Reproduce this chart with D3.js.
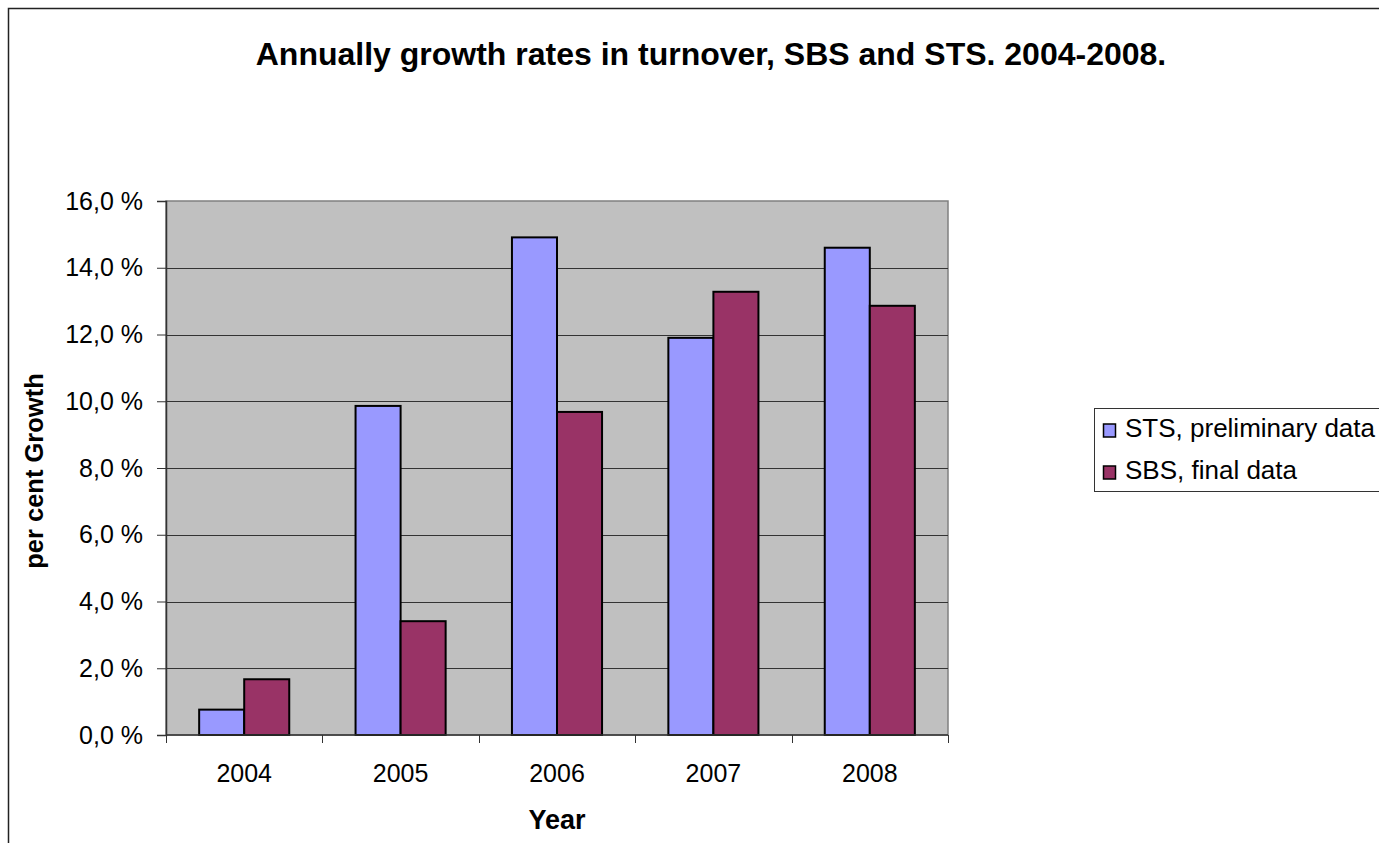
<!DOCTYPE html>
<html>
<head>
<meta charset="utf-8">
<script src="https://cdn.jsdelivr.net/npm/d3@7/dist/d3.min.js"></script>
<style>
  html, body { margin: 0; padding: 0; background: #fff; overflow: hidden; }
  svg { display: block; font-family: "Liberation Sans", Arial, sans-serif; }
</style>
</head>
<body>
<svg id="chart" width="1379" height="843"></svg>
<script>
// Annual growth rates (%) by year
const years = ["2004", "2005", "2006", "2007", "2008"];
const stsValues = [0.76, 9.86, 14.91, 11.9, 14.6];
const sbsValues = [1.67, 3.41, 9.68, 13.28, 12.86];
const seriesNames = ["STS, preliminary data", "SBS, final data"];
const seriesColors = ["#9999FF", "#993366"];
const yTicks = [0, 2, 4, 6, 8, 10, 12, 14, 16];

const svg = d3.select("#chart");

// Outer chart frame (runs off the right and bottom edges)
svg.append("rect")
  .attr("x", 8.5).attr("y", 8.5)
  .attr("width", 1400).attr("height", 900)
  .attr("fill", "#fff").attr("stroke", "#222").attr("stroke-width", 1.5);

const plot = { left: 166, top: 201, right: 948, bottom: 735 };

const x = d3.scaleBand().domain(years).range([plot.left, plot.right]).padding(0);
const y = d3.scaleLinear().domain([0, 16]).range([plot.bottom, plot.top]);

// Bars fill 0.576 of each category, split evenly between the two series
const groupFrac = 0.576;
const xSub = d3.scaleBand().domain([0, 1])
  .range([x.bandwidth() * (1 - groupFrac) / 2, x.bandwidth() * (1 + groupFrac) / 2])
  .padding(0);

// Plot background
svg.append("rect")
  .attr("x", plot.left).attr("y", plot.top)
  .attr("width", plot.right - plot.left).attr("height", plot.bottom - plot.top)
  .attr("fill", "#C0C0C0").attr("stroke", "#808080").attr("stroke-width", 1.5);

// Horizontal gridlines
svg.append("g").selectAll("line")
  .data(yTicks.filter(t => t > 0 && t < 16))
  .join("line")
  .attr("x1", plot.left).attr("x2", plot.right)
  .attr("y1", d => Math.round(y(d)) + 0.5).attr("y2", d => Math.round(y(d)) + 0.5)
  .attr("stroke", "#333").attr("stroke-width", 1);

// Bars
const rows = years.map((yr, i) => ({ year: yr, vals: [stsValues[i], sbsValues[i]] }));
const groups = svg.append("g").selectAll("g")
  .data(rows).join("g")
  .attr("transform", d => `translate(${x(d.year)},0)`);
groups.selectAll("rect")
  .data(d => d.vals.map((v, k) => ({ v, k })))
  .join("rect")
  .attr("x", d => xSub(d.k))
  .attr("y", d => y(d.v))
  .attr("width", xSub.bandwidth())
  .attr("height", d => y(0) - y(d.v))
  .attr("fill", d => seriesColors[d.k])
  .attr("stroke", "#000").attr("stroke-width", 2);

// Y axis
const fmt = d => d.toFixed(1).replace(".", ",") + " %";
const yAxis = svg.append("g")
  .attr("transform", `translate(${plot.left},0)`)
  .call(d3.axisLeft(y).tickValues(yTicks).tickFormat(fmt).tickSize(9).tickPadding(14));
yAxis.select(".domain").attr("stroke", "#333").attr("stroke-width", 1.5);
yAxis.selectAll(".tick line").attr("stroke", "#333");
yAxis.selectAll("text").attr("font-size", 25).attr("fill", "#000")
  .attr("font-family", "Liberation Sans, Arial, sans-serif");

// X axis: ticks at category boundaries
const xAxisG = svg.append("g").attr("transform", `translate(0,${plot.bottom})`);
xAxisG.append("line")
  .attr("x1", plot.left).attr("x2", plot.right)
  .attr("y1", 0).attr("y2", 0)
  .attr("stroke", "#333").attr("stroke-width", 1.5);
const boundaries = years.map(d => x(d)).concat([plot.right]);
xAxisG.selectAll("line.tk").data(boundaries).join("line")
  .attr("class", "tk")
  .attr("x1", d => Math.round(d) + 0.5).attr("x2", d => Math.round(d) + 0.5)
  .attr("y1", 0).attr("y2", 8)
  .attr("stroke", "#333").attr("stroke-width", 1);
xAxisG.selectAll("text").data(years).join("text")
  .attr("x", d => x(d) + x.bandwidth() / 2)
  .attr("y", 47)
  .attr("text-anchor", "middle")
  .attr("font-size", 25)
  .text(d => d);

// Title
svg.append("text")
  .attr("x", 711).attr("y", 65)
  .attr("text-anchor", "middle")
  .attr("font-size", 32).attr("font-weight", "bold")
  .text("Annually growth rates in turnover, SBS and STS. 2004-2008.");

// Axis titles
svg.append("text")
  .attr("x", 557).attr("y", 829)
  .attr("text-anchor", "middle")
  .attr("font-size", 27).attr("font-weight", "bold")
  .text("Year");
svg.append("text")
  .attr("transform", "translate(43,471) rotate(-90)")
  .attr("text-anchor", "middle")
  .attr("font-size", 25.5).attr("font-weight", "bold")
  .text("per cent Growth");

// Legend
const legend = svg.append("g");
legend.append("rect")
  .attr("x", 1094.5).attr("y", 408.5)
  .attr("width", 320).attr("height", 83)
  .attr("fill", "#fff").attr("stroke", "#333").attr("stroke-width", 1);
seriesNames.forEach((name, i) => {
  const cy = 430 + i * 42;
  legend.append("rect")
    .attr("x", 1103.5).attr("y", cy - 6)
    .attr("width", 12).attr("height", 13)
    .attr("fill", seriesColors[i]).attr("stroke", "#000").attr("stroke-width", 1.5);
  legend.append("text")
    .attr("x", 1125).attr("y", cy + 7)
    .attr("font-size", 26)
    .text(name);
});
</script>
</body>
</html>
